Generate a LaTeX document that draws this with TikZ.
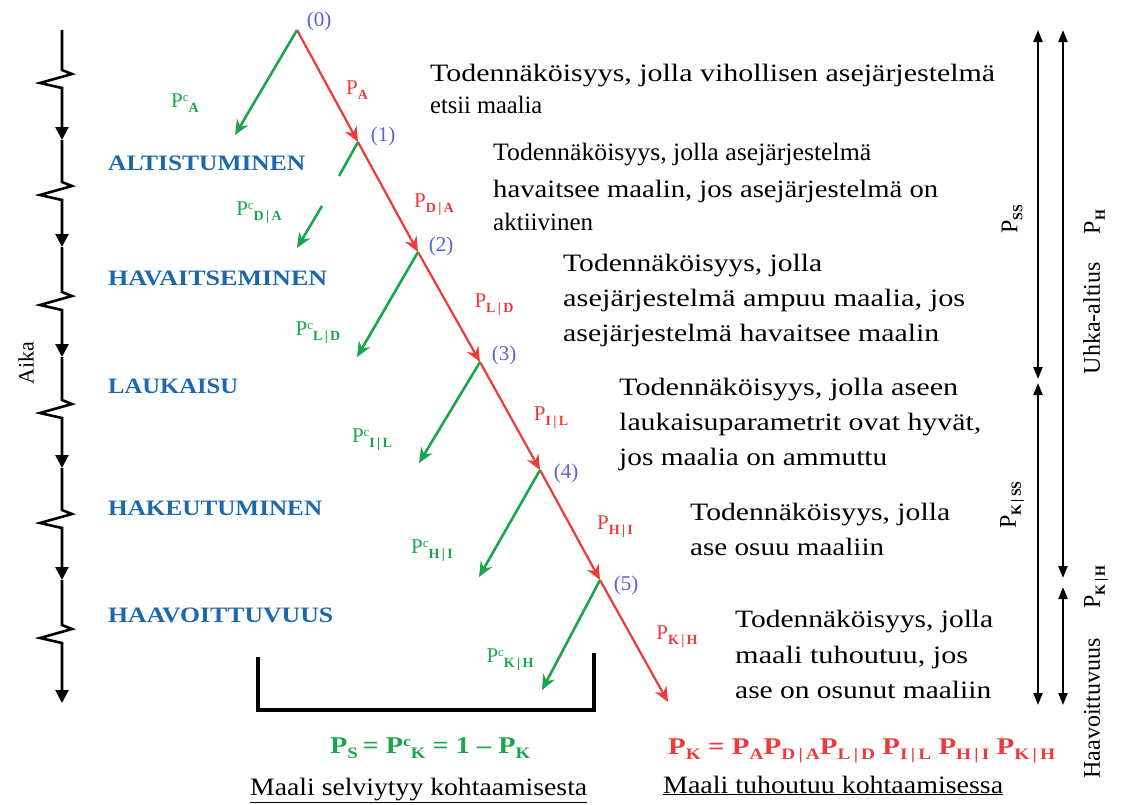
\documentclass[tikz,border=0pt]{standalone}
\usepackage{fontspec}
\usepackage{graphicx}
\setmainfont{Liberation Serif}
\usetikzlibrary{arrows.meta}
\definecolor{tred}{RGB}{238,58,58}
\definecolor{tgreen}{RGB}{28,165,78}
\definecolor{tblue}{RGB}{28,104,172}
\definecolor{tnum}{RGB}{95,95,215}
\newcommand\fsz[1]{\fontsize{#1}{#1}\selectfont}
\newcommand\lsub[1]{\raisebox{-5pt}{\fsz{14}\bfseries #1}}
\newcommand\lsup[1]{\raisebox{6pt}{\fsz{13}#1}}
\newcommand\fsub[1]{\raisebox{-5pt}{\fsz{16}\bfseries #1}}
\newcommand\fsup[1]{\raisebox{7pt}{\fsz{15}\bfseries #1}}
\newcommand\wline[2]{\resizebox{#1pt}{\height}{#2}}
\begin{document}
\begin{tikzpicture}[x=1pt,y=-1pt,
  desc/.style={font=\fsz{25}, inner sep=0pt, anchor=base west},
  stage/.style={font=\fsz{22}\bfseries, text=tblue, inner sep=0pt, anchor=base west},
  num/.style={font=\fsz{21}, text=tnum, inner sep=0pt},
  rlab/.style={font=\fsz{21}, text=tred, inner sep=0pt},
  glab/.style={font=\fsz{21}, text=tgreen, inner sep=0pt},
  side/.style={font=\fsz{24}, inner sep=0pt, rotate=90},
  rarr/.style={draw=tred, line width=2.2pt, -{Stealth[length=15pt,width=13pt]}},
  garr/.style={draw=tgreen, line width=2.6pt, -{Stealth[length=15pt,width=13pt]}},
  gline/.style={draw=tgreen, line width=2.6pt},
  axis/.style={line width=2.6pt, -{Triangle[width=13pt,length=13pt]}},
  dim/.style={line width=2.2pt, {Triangle[width=9pt,length=12pt]}-{Triangle[width=9pt,length=12pt]}},
  bracket/.style={line width=4pt}]
\useasboundingbox (0,0) rectangle (1125,804);

% time axis
\draw[axis] (62,30) -- (62,70) -- (72,74) -- (40,83) -- (62,88) -- (62,140);
\draw[axis] (62,140) -- (62,182) -- (72,186) -- (40,195) -- (62,200) -- (62,247);
\draw[axis] (62,247) -- (62,292) -- (72,296) -- (40,305) -- (62,310) -- (62,357);
\draw[axis] (62,357) -- (62,400) -- (72,404) -- (40,413) -- (62,418) -- (62,468);
\draw[axis] (62,468) -- (62,510) -- (72,514) -- (40,523) -- (62,528) -- (62,580);
\draw[axis] (62,580) -- (62,625) -- (72,629) -- (40,638) -- (62,643) -- (62,703);
\node[font=\fsz{22}, rotate=90, inner sep=0pt] (aika) at (26,363) {Aika};

% stage labels
\node[stage] (s1) at (108,170) {\wline{197}{ALTISTUMINEN}};
\node[stage] (s2) at (108,285) {\wline{219}{HAVAITSEMINEN}};
\node[stage] (s3) at (108,393) {\wline{130}{LAUKAISU}};
\node[stage] (s4) at (108,515) {\wline{214}{HAKEUTUMINEN}};
\node[stage] (s5) at (108,622) {\wline{225}{HAAVOITTUVUUS}};

% event points
\coordinate (n0) at (297,30);
\coordinate (n1) at (358,142);
\coordinate (n2) at (418,252);
\coordinate (n3) at (480,362);
\coordinate (n4) at (540,470);
\coordinate (n5) at (600,580);
\coordinate (n6) at (668,702);
\node[num] (l0) at (319,21) {(0)};
\node[num] (l1) at (383,136) {(1)};
\node[num] (l2) at (441,246) {(2)};
\node[num] (l3) at (504,355) {(3)};
\node[num] (l4) at (566,473) {(4)};
\node[num] (l5) at (626,585) {(5)};

% red path
\draw[rarr] (n0) -- (n1);
\draw[rarr] (n1) -- (n2);
\draw[rarr] (n2) -- (n3);
\draw[rarr] (n3) -- (n4);
\draw[rarr] (n4) -- (n5);
\draw[rarr] (n5) -- (n6);
\node[rlab] (r1) at (357,90) {P\lsub{A}};
\node[rlab] (r2) at (434,205) {P\lsub{D\,|\,A}};
\node[rlab] (r3) at (494,305) {P\lsub{L\,|\,D}};
\node[rlab] (r4) at (551,418) {P\lsub{I\,|\,L}};
\node[rlab] (r5) at (615,527) {P\lsub{H\,|\,I}};
\node[rlab] (r6) at (677,637) {P\lsub{K\,|\,H}};

% green branches
\coordinate (g0) at (235,135);
\coordinate (g1a) at (339,176);
\coordinate (g1b) at (322,206);
\coordinate (g1) at (297,248);
\coordinate (g2) at (357,357);
\coordinate (g3) at (419,463);
\coordinate (g4) at (479,577);
\coordinate (g5) at (542,690);
\draw[garr] (n0) -- (g0);
\draw[gline] (n1) -- (g1a);
\draw[garr] (g1b) -- (g1);
\draw[garr] (n2) -- (g2);
\draw[garr] (n3) -- (g3);
\draw[garr] (n4) -- (g4);
\draw[garr] (n5) -- (g5);
\node[glab] (c1) at (185,103) {P\lsup{c}\lsub{A}};
\node[glab] (c2) at (259,213) {P\lsup{c}\lsub{D\,|\,A}};
\node[glab] (c3) at (318,333) {P\lsup{c}\lsub{L\,|\,D}};
\node[glab] (c4) at (372,440) {P\lsup{c}\lsub{I\,|\,L}};
\node[glab] (c5) at (432,551) {P\lsup{c}\lsub{H\,|\,I}};
\node[glab] (c6) at (510,660) {P\lsup{c}\lsub{K\,|\,H}};

% descriptions
\node[desc] (p1a) at (430,81) {\wline{565}{Todennäköisyys, jolla vihollisen asejärjestelmä}};
\node[desc] (p1b) at (430,113) {\wline{112}{etsii maalia}};
\node[desc] (p2a) at (493,160) {\wline{378}{Todennäköisyys, jolla asejärjestelmä}};
\node[desc] (p2b) at (493,197) {\wline{445}{havaitsee maalin, jos asejärjestelmä on}};
\node[desc] (p2c) at (493,230) {\wline{100}{aktiivinen}};
\node[desc] (p3a) at (563,271) {\wline{259}{Todennäköisyys, jolla}};
\node[desc] (p3b) at (563,306) {\wline{402}{asejärjestelmä ampuu maalia, jos}};
\node[desc] (p3c) at (563,341) {\wline{376}{asejärjestelmä havaitsee maalin}};
\node[desc] (p4a) at (619,395) {\wline{339}{Todennäköisyys, jolla aseen}};
\node[desc] (p4b) at (619,430) {\wline{362}{laukaisuparametrit ovat hyvät,}};
\node[desc] (p4c) at (619,465) {\wline{268}{jos maalia on ammuttu}};
\node[desc] (p5a) at (690,520) {\wline{260}{Todennäköisyys, jolla}};
\node[desc] (p5b) at (690,555) {\wline{194}{ase osuu maaliin}};
\node[desc] (p6a) at (735,627) {\wline{258}{Todennäköisyys, jolla}};
\node[desc] (p6b) at (735,663) {\wline{233}{maali tuhoutuu, jos}};
\node[desc] (p6c) at (735,698) {\wline{256}{ase on osunut maaliin}};

% bottom bracket and formulas
\coordinate (b1) at (258,657);
\coordinate (b2) at (258,710);
\coordinate (b3) at (594,710);
\coordinate (b4) at (594,653);
\draw[bracket] (b1) -- (b2) -- (b3) -- (b4);
\node[font=\fsz{24}\bfseries, text=tgreen, inner sep=0pt, anchor=base west] (fs) at (330,753)
  {\wline{200}{P\fsub{S}\,= P\fsup{c}\fsub{K} = 1 -- P\fsub{K}}};
\node[font=\fsz{25}, inner sep=0pt, anchor=base west] (ms) at (250,795)
  {\wline{337}{\underline{Maali selviytyy kohtaamisesta}}};
\node[font=\fsz{24}\bfseries, text=tred, inner sep=0pt, anchor=base west] (fk) at (668,754)
  {\wline{387}{P\fsub{K} = P\fsub{A}P\fsub{D\,|\,A}P\fsub{L\,|\,D} P\fsub{I\,|\,L} P\fsub{H\,|\,I} P\fsub{K\,|\,H}}};
\node[font=\fsz{25}, inner sep=0pt, anchor=base west] (mk) at (663,793)
  {\wline{340}{\underline{Maali tuhoutuu kohtaamisessa}}};

% right dimension arrows
\coordinate (a1t) at (1038,30);
\coordinate (a1b) at (1038,379);
\coordinate (a2t) at (1038,383);
\coordinate (a2b) at (1038,705);
\coordinate (a3t) at (1063,30);
\coordinate (a3b) at (1063,578);
\coordinate (a4t) at (1063,587);
\coordinate (a4b) at (1063,705);
\draw[dim] (a1t) -- (a1b);
\draw[dim] (a2t) -- (a2b);
\draw[dim] (a3t) -- (a3b);
\draw[dim] (a4t) -- (a4b);
\node[side] (pss) at (1012,219) {P\lsub{SS}};
\node[side] (pkss) at (1012,505) {P\lsub{K\,|\,SS}};
\node[side] (uh) at (1094,292) {Uhka-altius\hspace{28pt}P\lsub{H}};
\node[side] (hv) at (1096,672) {Haavoittuvuus\hspace{30pt}P\lsub{K\,|\,H}};
\end{tikzpicture}
\end{document}
